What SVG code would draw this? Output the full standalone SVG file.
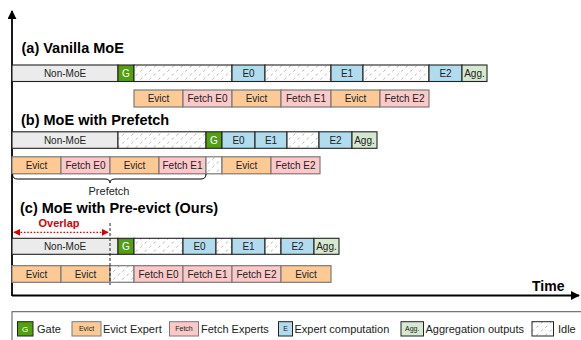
<svg xmlns="http://www.w3.org/2000/svg" width="581" height="340" viewBox="0 0 581 340">
  <defs>
    <pattern id="hatch" width="9" height="8" patternUnits="userSpaceOnUse">
      <rect width="9" height="8" fill="#fff"/>
      <path d="M1,3.6 L2.6,1.6 M5.5,7.6 L7.1,5.6" stroke="#a8a8a8" stroke-width="0.9"/>
    </pattern>
    <marker id="ah" viewBox="0 0 10 10" refX="9" refY="5" markerWidth="9" markerHeight="9" markerUnits="userSpaceOnUse" orient="auto">
      <path d="M0,0 L10,5 L0,10 Z" fill="#000"/>
    </marker>
    <marker id="ahRed" viewBox="0 0 10 10" refX="9" refY="5" markerWidth="7" markerHeight="7" markerUnits="userSpaceOnUse" orient="auto-start-reverse">
      <path d="M0,0 L10,5 L0,10 Z" fill="#d40000"/>
    </marker>
  </defs>
  <style>
    text { font-family: "Liberation Sans", Arial, sans-serif; fill: #222; }
    .title { font-size: 14.5px; font-weight: bold; fill: #000; }
    .lbl { font-size: 10px; text-anchor: middle; }
    .leg { font-size: 11px; }
    .sw { font-size: 7px; text-anchor: middle; }
    .top { stroke: #222; stroke-width: 1.1; }
    .bot { stroke: #7a7a7a; stroke-width: 1.2; }
    .nonmoe { fill: #ebebeb; }
    .gate { fill: #52a012; }
    .exp { fill: #b1dcee; }
    .agg { fill: #d6e8cf; }
    .evict { fill: #fdca96; }
    .fetch { fill: #fcc8c8; }
    .idle { fill: url(#hatch); }
    .axis { stroke: #000; stroke-width: 1.8; fill: none; }
  </style>

  <!-- axes -->
  <g id="axes">
    <line class="axis" x1="12" y1="296" x2="12" y2="11" marker-end="url(#ah)"/>
    <line class="axis" x1="12" y1="295.5" x2="579" y2="295.5" marker-end="url(#ah)"/>
    <text x="532" y="291" style="font-size:14px;font-weight:bold;fill:#000">Time</text>
  </g>

  <!-- (a) Vanilla MoE -->
  <g id="vanilla">
    <text class="title" x="21.5" y="53">(a) Vanilla MoE</text>
    <g class="top">
      <rect class="nonmoe" x="12" y="65" width="106" height="16.5"/>
      <rect class="gate" x="118" y="65" width="16" height="16.5"/>
      <rect class="idle" x="134" y="65" width="98" height="16.5"/>
      <rect class="exp" x="232" y="65" width="33" height="16.5"/>
      <rect class="idle" x="265" y="65" width="66" height="16.5"/>
      <rect class="exp" x="331" y="65" width="32" height="16.5"/>
      <rect class="idle" x="363" y="65" width="66" height="16.5"/>
      <rect class="exp" x="429" y="65" width="33" height="16.5"/>
      <rect class="agg" x="462" y="65" width="25" height="16.5"/>
    </g>
    <text class="lbl" x="65" y="77">Non-MoE</text>
    <text class="lbl" x="126" y="77" style="fill:#fff">G</text>
    <text class="lbl" x="248.5" y="77">E0</text>
    <text class="lbl" x="347" y="77">E1</text>
    <text class="lbl" x="445.5" y="77">E2</text>
    <text class="lbl" x="474.5" y="77">Agg.</text>
    <g class="bot">
      <rect class="evict" x="134" y="90" width="49" height="17"/>
      <rect class="fetch" x="183" y="90" width="49" height="17"/>
      <rect class="evict" x="232" y="90" width="49" height="17"/>
      <rect class="fetch" x="281" y="90" width="50" height="17"/>
      <rect class="evict" x="331" y="90" width="49" height="17"/>
      <rect class="fetch" x="380" y="90" width="49" height="17"/>
    </g>
    <text class="lbl" x="158.5" y="102">Evict</text>
    <text class="lbl" x="207.5" y="102">Fetch E0</text>
    <text class="lbl" x="256.5" y="102">Evict</text>
    <text class="lbl" x="306" y="102">Fetch E1</text>
    <text class="lbl" x="355.5" y="102">Evict</text>
    <text class="lbl" x="404.5" y="102">Fetch E2</text>
  </g>

  <!-- (b) MoE with Prefetch -->
  <g id="prefetch">
    <text class="title" x="21" y="125">(b) MoE with Prefetch</text>
    <g class="top">
      <rect class="nonmoe" x="12" y="131.8" width="106" height="16.5"/>
      <rect class="idle" x="118" y="131.8" width="88" height="16.5"/>
      <rect class="gate" x="206" y="131.8" width="16" height="16.5"/>
      <rect class="exp" x="222" y="131.8" width="33" height="16.5"/>
      <rect class="exp" x="255" y="131.8" width="32" height="16.5"/>
      <rect class="idle" x="287" y="131.8" width="32" height="16.5"/>
      <rect class="exp" x="319" y="131.8" width="33" height="16.5"/>
      <rect class="agg" x="352" y="131.8" width="25" height="16.5"/>
    </g>
    <text class="lbl" x="65" y="143.8">Non-MoE</text>
    <text class="lbl" x="214" y="143.8" style="fill:#fff">G</text>
    <text class="lbl" x="238.5" y="143.8">E0</text>
    <text class="lbl" x="271" y="143.8">E1</text>
    <text class="lbl" x="335.5" y="143.8">E2</text>
    <text class="lbl" x="364.5" y="143.8">Agg.</text>
    <g class="bot">
      <rect class="evict" x="12" y="156.8" width="49" height="17"/>
      <rect class="fetch" x="61" y="156.8" width="49" height="17"/>
      <rect class="evict" x="110" y="156.8" width="49" height="17"/>
      <rect class="fetch" x="159" y="156.8" width="47" height="17"/>
      <rect class="idle" x="206" y="156.8" width="16" height="17"/>
      <rect class="evict" x="222" y="156.8" width="49" height="17"/>
      <rect class="fetch" x="271" y="156.8" width="49" height="17"/>
    </g>
    <text class="lbl" x="36.5" y="168.8">Evict</text>
    <text class="lbl" x="85.5" y="168.8">Fetch E0</text>
    <text class="lbl" x="134.5" y="168.8">Evict</text>
    <text class="lbl" x="182.5" y="168.8">Fetch E1</text>
    <text class="lbl" x="246.5" y="168.8">Evict</text>
    <text class="lbl" x="295.5" y="168.8">Fetch E2</text>
    <path d="M12.5,174 Q12.5,179 17.5,179 L105,179 Q110,179 110,183 Q110,179 115,179 L201,179 Q206,179 206,174" fill="none" stroke="#000" stroke-width="1"/>
    <text x="109" y="195" style="font-size:11px;text-anchor:middle">Prefetch</text>
  </g>

  <!-- (c) MoE with Pre-evict -->
  <g id="preevict">
    <text class="title" x="20" y="213">(c) MoE with Pre-evict (Ours)</text>
    <g class="top">
      <rect class="nonmoe" x="12" y="238.3" width="106" height="16"/>
      <rect class="gate" x="118" y="238.3" width="16" height="16"/>
      <rect class="idle" x="134" y="238.3" width="49" height="16"/>
      <rect class="exp" x="183" y="238.3" width="33" height="16"/>
      <rect class="idle" x="216" y="238.3" width="16" height="16"/>
      <rect class="exp" x="232" y="238.3" width="33" height="16"/>
      <rect class="idle" x="265" y="238.3" width="16" height="16"/>
      <rect class="exp" x="281" y="238.3" width="33" height="16"/>
      <rect class="agg" x="314" y="238.3" width="25" height="16"/>
    </g>
    <text class="lbl" x="65" y="250">Non-MoE</text>
    <text class="lbl" x="126" y="250" style="fill:#fff">G</text>
    <text class="lbl" x="199.5" y="250">E0</text>
    <text class="lbl" x="248.5" y="250">E1</text>
    <text class="lbl" x="297.5" y="250">E2</text>
    <text class="lbl" x="326.5" y="250">Agg.</text>
    <g class="bot">
      <rect class="evict" x="12" y="265.7" width="49" height="16.6"/>
      <rect class="evict" x="61" y="265.7" width="49" height="16.6"/>
      <rect class="idle" x="110" y="265.7" width="24" height="16.6"/>
      <rect class="fetch" x="134" y="265.7" width="49" height="16.6"/>
      <rect class="fetch" x="183" y="265.7" width="49" height="16.6"/>
      <rect class="fetch" x="232" y="265.7" width="49" height="16.6"/>
      <rect class="evict" x="281" y="265.7" width="50" height="16.6"/>
    </g>
    <text class="lbl" x="36.5" y="277.5">Evict</text>
    <text class="lbl" x="85.5" y="277.5">Evict</text>
    <text class="lbl" x="158.5" y="277.5">Fetch E0</text>
    <text class="lbl" x="207.5" y="277.5">Fetch E1</text>
    <text class="lbl" x="256.5" y="277.5">Fetch E2</text>
    <text class="lbl" x="306" y="277.5">Evict</text>
  </g>

  <!-- overlap annotation -->
  <g id="overlap">
    <line x1="110" y1="223" x2="110" y2="285" stroke="#222" stroke-width="1" stroke-dasharray="3,2"/>
    <line x1="14" y1="232.3" x2="108" y2="232.3" stroke="#d40000" stroke-width="1.2" stroke-dasharray="1.5,1.8" marker-start="url(#ahRed)" marker-end="url(#ahRed)"/>
    <text x="59" y="227" style="font-size:11px;font-weight:bold;fill:#d40000;text-anchor:middle">Overlap</text>
  </g>

  <!-- legend -->
  <g id="legend">
    <rect x="12" y="311.7" width="580" height="40" fill="none" stroke="#555" stroke-width="1"/>
    <rect class="gate" x="17.5" y="321.7" width="15.5" height="14.3" stroke="#222" stroke-width="1"/>
    <text x="25.2" y="332" style="font-size:8px;text-anchor:middle;fill:#fff">G</text>
    <text class="leg" x="37" y="332.5">Gate</text>
    <rect class="evict" x="72" y="321.7" width="29" height="14.3" stroke="#7a7a7a" stroke-width="1"/>
    <text class="sw" x="86.5" y="331.2">Evict</text>
    <text class="leg" x="103" y="332.5">Evict Expert</text>
    <rect class="fetch" x="169.5" y="321.7" width="29" height="14.3" stroke="#7a7a7a" stroke-width="1"/>
    <text class="sw" x="184" y="331.2">Fetch</text>
    <text class="leg" x="201" y="332.5">Fetch Experts</text>
    <rect class="exp" x="278.5" y="321.7" width="14" height="14.3" stroke="#222" stroke-width="1"/>
    <text class="sw" x="285.5" y="331.2">E</text>
    <text class="leg" x="294.5" y="332.5">Expert computation</text>
    <rect class="agg" x="401" y="321.7" width="22.5" height="14.3" stroke="#222" stroke-width="1"/>
    <text class="sw" x="412.2" y="331.2">Agg.</text>
    <text class="leg" x="425.5" y="332.5">Aggregation outputs</text>
    <rect class="idle" x="532" y="321.7" width="21.5" height="14.3" stroke="#222" stroke-width="1"/>
    <text class="leg" x="558" y="332.5">Idle</text>
  </g>
</svg>
